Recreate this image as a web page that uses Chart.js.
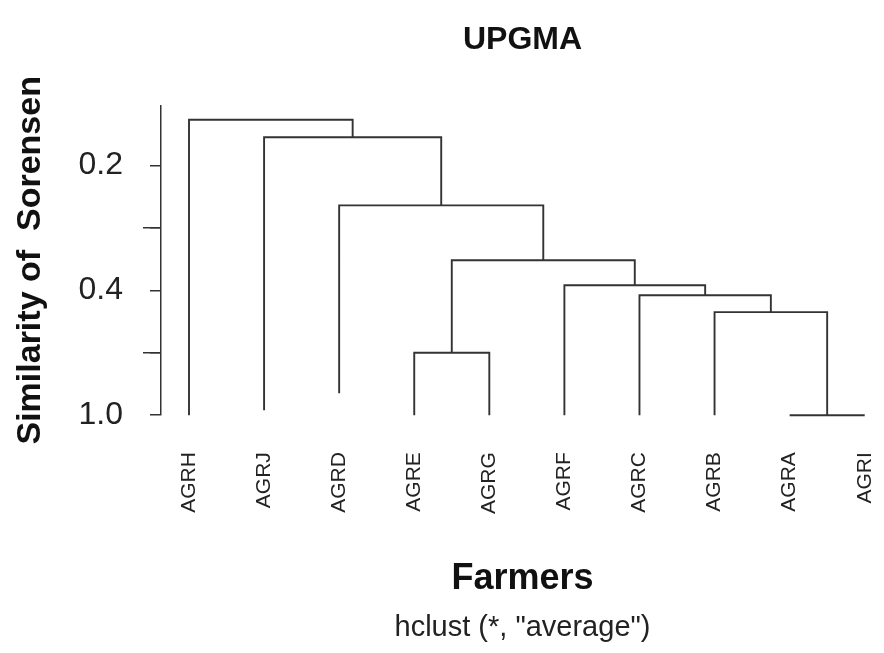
<!DOCTYPE html>
<html>
<head>
<meta charset="utf-8">
<script src="https://cdn.jsdelivr.net/npm/chart.js@4.4.1/dist/chart.umd.min.js"></script>
<style>
  html, body { margin: 0; padding: 0; background: #fff; }
  #wrap { width: 884px; height: 653px; }
</style>
</head>
<body>
<div id="wrap"><canvas id="dendro"></canvas></div>
<script>
// ========== Data ==========
const leaves = ['AGRH', 'AGRJ', 'AGRD', 'AGRE', 'AGRG', 'AGRF', 'AGRC', 'AGRB', 'AGRA', 'AGRI'];
// height at which each leaf line ends (bottom)
const leafBase = [0, 0.08, 0.35, 0, 0, 0, 0, 0, 0, 0];
// hclust-style merges: negative = leaf (1-based), positive = earlier merge
const mergeLeft = [-9, -4, -8, -7, -6, 2, -3, -2, -1];
const mergeRight = [-10, -5, 1, 3, 4, 5, 6, 7, 8];
const mergeHeight = [0, 1.0, 1.65, 1.92, 2.08, 2.48, 3.36, 4.45, 4.73];
const yTickPos = [0, 1, 2, 3, 4];
const yTickLabels = ['1.0', '', '0.4', '', '0.2'];
const yMinorTicks = [1, 3];

// ========== Build dendrogram paths ==========
const nodeX = [], nodeH = [];
const childX = c => c < 0 ? -c : nodeX[c - 1];
const childH = c => c < 0 ? leafBase[-c - 1] : nodeH[c - 1];
const paths = mergeHeight.map((h, i) => {
  const l = mergeLeft[i], r = mergeRight[i];
  const xl = childX(l), xr = childX(r);
  nodeX.push((xl + xr) / 2);
  nodeH.push(h);
  return [{ x: xl, y: childH(l) }, { x: xl, y: h }, { x: xr, y: h }, { x: xr, y: childH(r) }];
});

const ink = '#333';
const font = 'Liberation Sans, Arial, sans-serif';

new Chart(document.getElementById('dendro'), {
  type: 'scatter',
  data: {
    datasets: paths.map(p => ({
      data: p, showLine: true, borderColor: ink, borderWidth: 1.9, pointRadius: 0,
      fill: false, tension: 0, clip: false, borderJoinStyle: 'miter'
    }))
  },
  options: {
    responsive: true, maintainAspectRatio: false, animation: false, events: [],
    layout: { padding: 0 },
    plugins: {
      legend: { display: false },
      tooltip: { enabled: false },
      title: { display: true, text: 'UPGMA', fullSize: false, color: '#111',
        font: { family: font, size: 32, weight: 'bold' }, padding: { top: 21, bottom: 46 } },
      subtitle: { display: true, position: 'bottom', text: 'hclust (*, "average")', fullSize: false, color: '#222',
        font: { family: font, size: 29, weight: 'normal' }, padding: { top: 6, bottom: 8 } }
    },
    scales: {
      x: {
        type: 'linear', min: 0.627, max: 10.257,
        afterBuildTicks: s => { s.ticks = leaves.map((_, i) => ({ value: i + 1 })); },
        afterFit: s => { s.height = 189; s.paddingLeft = 0; s.paddingRight = 0; },
        grid: { display: false, drawTicks: false },
        border: { display: false },
        ticks: { autoSkip: false, minRotation: 90, maxRotation: 90, padding: 37, color: '#222',
          font: { family: font, size: 21 }, callback: v => leaves[v - 1] },
        title: { display: true, text: 'Farmers', color: '#111',
          font: { family: font, size: 36, weight: 'bold' }, padding: { top: 0, bottom: 4 } }
      },
      y: {
        type: 'linear', position: 'left', min: 0, max: 4.96, weight: 1,
        afterBuildTicks: s => { s.ticks = yTickPos.map(v => ({ value: v })); },
        afterFit: s => { s.width = 161; },
        grid: { drawOnChartArea: false, tickLength: 11, color: ink, lineWidth: 1.5 },
        border: { display: true, color: ink, width: 1.5 },
        ticks: { padding: 27, color: '#222', font: { family: font, size: 32 },
          callback: (v, i) => yTickLabels[i] },
        title: { display: true, text: 'Similarity of  Sorensen', color: '#111',
          font: { family: font, size: 34, weight: 'bold' }, padding: { top: 10, bottom: 0 } }
      },
      yMinor: {
        type: 'linear', position: 'left', min: 0, max: 4.96, weight: 0,
        afterBuildTicks: s => { s.ticks = yMinorTicks.map(v => ({ value: v })); },
        afterFit: s => { s.width = 0; },
        grid: { drawOnChartArea: false, tickLength: 18, color: ink, lineWidth: 1.5 },
        border: { display: false },
        ticks: { display: false }
      }
    }
  }
});
</script>
</body>
</html>
